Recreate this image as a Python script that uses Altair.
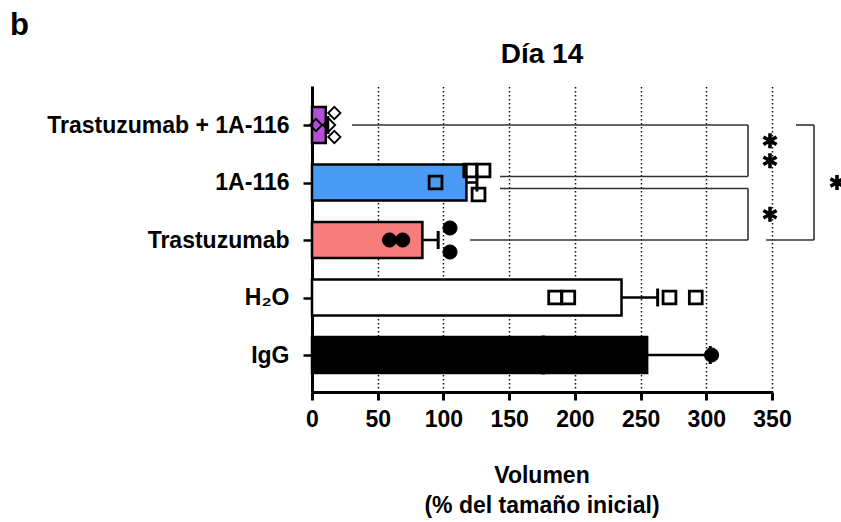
import altair as alt
import pandas as pd

# ---------------- data ----------------
groups = ["Trastuzumab + 1A-116", "1A-116", "Trastuzumab", "H₂O", "IgG"]
means = [10.5, 117.5, 84.0, 235.5, 255.0]
sems = [1.5, 8.0, 12.0, 27.5, 48.0]
pts_combo = [3, 13, 17, 17]
pts_1a116 = [94, 120.4, 126.7, 130.5]
pts_trast = [59, 69, 105, 105]
pts_h2o = [185, 195, 272, 292]
pts_igg = [176, 176, 304]
points = [pts_combo, pts_1a116, pts_trast, pts_h2o, pts_igg]
x_ticks = [0, 50, 100, 150, 200, 250, 300, 350]
panel_letter = "b"
chart_title = "Día 14"
x_title = ["Volumen", "(% del tamaño inicial)"]
# significance: (group a, group b, label)
comparisons = [(0, 1, "**"), (1, 2, "*"), (0, 2, "*")]

# ---------------- styling ----------------
FONT = "Liberation Sans"
fills = ["#B44FDA", "#4A9BF6", "#F77C7C", "#FFFFFF", "#000000"]
markers = ["diamond", "square", "circle", "square", "circle"]
filled = [False, False, True, False, True]
msize = [150, 165, 200, 165, 200]

W, H = 460, 306
XMAX = 350
STEP = 57.5                      # px per category
Y0 = -39 / STEP                  # top of plot (domain units)
Y1 = (H - 39) / STEP             # bottom of plot
BAR_H = 18 / STEP
CAP_H = 9 / STEP
PXU = W / XMAX                   # px per x unit

xs = alt.Scale(domain=[0, XMAX], nice=False, zero=False)
ys = alt.Scale(domain=[Y0, Y1], reverse=True, nice=False, zero=False)

label_expr = "[" + ",".join("'" + g + "'" for g in groups) + "][datum.value]"

X_AX = alt.Axis(
    values=x_ticks, title=None, grid=True, gridDash=[1.5, 2.5], gridColor="#111",
    gridWidth=1.5, domainColor="black", domainWidth=3, tickColor="black",
    tickWidth=3, tickSize=8, labelPadding=8, labelFont=FONT, labelFontSize=23,
    labelFontWeight="bold", labelColor="black", labelFlush=False)
Y_AX = alt.Axis(
    values=list(range(len(groups))), labelExpr=label_expr, title=None, grid=False,
    domainColor="black", domainWidth=3, tickColor="black", tickWidth=2.5,
    tickSize=9, labelPadding=14, labelFont=FONT, labelFontSize=23,
    labelFontWeight="bold", labelColor="black", labelLimit=400)


def X(f):
    return alt.X(f, scale=xs, axis=X_AX)


def Y(f):
    return alt.Y(f, scale=ys, axis=Y_AX)


# ---------------- bars ----------------
bars_df = pd.DataFrame({
    "g": groups, "i": range(len(groups)), "m": means, "s": sems,
    "fill": fills,
})
bars_df["y1"] = bars_df["i"] - BAR_H
bars_df["y2"] = bars_df["i"] + BAR_H
bars_df["zero"] = 0.0
bars_df["hi"] = bars_df["m"] + bars_df["s"]
bars_df["c1"] = bars_df["i"] - CAP_H
bars_df["c2"] = bars_df["i"] + CAP_H

bars = alt.Chart(bars_df).mark_bar(stroke="black", strokeWidth=2.5).encode(
    x=X("zero:Q"), x2="m:Q",
    y=Y("y1:Q"), y2="y2:Q",
    fill=alt.Fill("fill:N", scale=None),
)

err_line = alt.Chart(bars_df).mark_rule(color="black", strokeWidth=2.5).encode(
    x=X("m:Q"), x2="hi:Q", y=Y("i:Q"),
)
err_cap = alt.Chart(bars_df).mark_rule(color="black", strokeWidth=3).encode(
    x=X("hi:Q"), y=Y("c1:Q"), y2="c2:Q",
)

# ---------------- points with vertical spreading ----------------
THR = 12.0      # px
SPREAD = 12.0   # px half-height of a spread cluster
rows = []
for gi, vals in enumerate(points):
    v = sorted(vals)
    clusters, cur = [], [v[0]]
    for a in v[1:]:
        if (a - cur[-1]) * PXU < THR:
            cur.append(a)
        else:
            clusters.append(cur)
            cur = [a]
    clusters.append(cur)
    for cl in clusters:
        placed = []
        for a in cl:
            for lane in [0, 1, -1, 2, -2, 3, -3]:
                if all(not (pl == lane and abs(pa - a) * PXU < THR) for pa, pl in placed):
                    placed.append((a, lane))
                    break
        lanes = sorted(set(l for _, l in placed))
        k = len(lanes)
        for a, lane in placed:
            if k == 1:
                dy = 0.0
            else:
                r = lanes.index(lane)
                dy = -SPREAD + 2 * SPREAD * r / (k - 1)
            rows.append({"g": groups[gi], "v": a, "y": gi + dy / STEP,
                         "mk": markers[gi], "filled": filled[gi], "sz": msize[gi]})
pts_df = pd.DataFrame(rows)

point_layers = []
for mk in ["diamond", "square", "circle"]:
    for fl in [False, True]:
        sub = pts_df[(pts_df["mk"] == mk) & (pts_df["filled"] == fl)]
        if len(sub) == 0:
            continue
        sz = int(sub["sz"].iloc[0])
        if fl:
            mark = alt.Chart(sub).mark_point(shape=mk, filled=True, fill="black",
                                            stroke="black", strokeWidth=1, size=sz, opacity=1)
        else:
            mark = alt.Chart(sub).mark_point(shape=mk, filled=False, stroke="black",
                                            strokeWidth=2.8 if mk == "square" else 1.8,
                                            size=sz, opacity=1)
        point_layers.append(mark.encode(x=X("v:Q"), y=Y("y:Q")))

# ---------------- significance brackets ----------------
def ux(px):  # pixel from plot left -> x units
    return px / PXU

BR_X = ux(436)        # right edge of inner brackets
BIG_X = ux(502)       # big bracket vertical
GAP = 6 / STEP
seg = []
seg += [(ux(40), BR_X, 0, 0), (BR_X, BR_X, 0, 1 - GAP), (ux(188), BR_X, 1 - GAP, 1 - GAP)]
seg += [(ux(188), BR_X, 1 + GAP, 1 + GAP), (BR_X, BR_X, 1 + GAP, 2), (ux(158), BR_X, 2, 2)]
seg += [(ux(484), BIG_X, 0, 0), (BIG_X, BIG_X, 0, 2), (ux(454), BIG_X, 2, 2)]
seg_df = pd.DataFrame(seg, columns=["x1", "x2", "y1", "y2"])
brackets = alt.Chart(seg_df).mark_rule(color="#333", strokeWidth=1.6).encode(
    x=X("x1:Q"), x2="x2:Q", y=Y("y1:Q"), y2="y2:Q",
)

STAR = "M0,-1L0,1M-0.866,-0.5L0.866,0.5M-0.866,0.5L0.866,-0.5"
star_rows = []
star_x = {0: ux(458), 1: ux(458), 2: ux(525)}
for ci, (a, b, lab) in enumerate(comparisons):
    top = a + (GAP if ci == 1 else 0)
    bot = b - (GAP if ci == 0 else 0)
    mid = (top + bot) / 2
    n = len(lab)
    for j in range(n):
        off = (j - (n - 1) / 2) * 20 / STEP
        star_rows.append({"x": star_x[ci], "y": mid + off})
stars = alt.Chart(pd.DataFrame(star_rows)).mark_point(
    shape=STAR, filled=False, stroke="black", strokeWidth=3.6, size=230, opacity=1
).encode(x=X("x:Q"), y=Y("y:Q"))

# ---------------- texts ----------------
def txt(t, x, y, size, align="center"):
    return alt.Chart(pd.DataFrame({"t": [t]})).mark_text(
        font=FONT, fontWeight="bold", fontSize=size, color="black", align=align,
        baseline="alphabetic").encode(text="t:N", x=alt.value(x), y=alt.value(y))

texts = [
    txt(panel_letter, -302, -51, 31, "left"),
    txt(chart_title, W / 2, -23, 28),
    txt(x_title[0], W / 2, 397, 23),
    txt(x_title[1], W / 2, 427, 23),
]

chart = alt.layer(bars, brackets, err_line, err_cap, *point_layers, stars, *texts).properties(
    width=W, height=H,
    autosize=alt.AutoSizeParams(type="none"),
    padding={"left": 312, "top": 86, "right": 69, "bottom": 130},
).configure_view(stroke=None)

chart.save("out.html", embed_options={"renderer": "svg", "actions": False})
